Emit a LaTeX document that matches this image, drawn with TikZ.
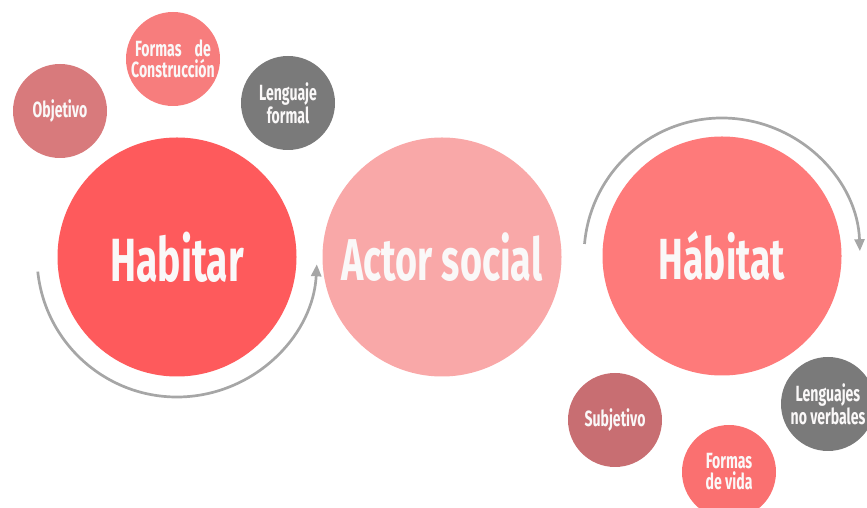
\documentclass[tikz,border=0pt]{standalone}
\usepackage{fontspec}
\newfontfamily\agency[FakeStretch=0.64]{Fira Sans}
\usetikzlibrary{arrows.meta}
\definecolor{cHabitar}{RGB}{254,90,92}
\definecolor{cActor}{RGB}{249,168,168}
\definecolor{cHabitat}{RGB}{254,122,122}
\definecolor{cObjetivo}{RGB}{216,122,124}
\definecolor{cFormasC}{RGB}{247,125,125}
\definecolor{cGris}{RGB}{122,122,122}
\definecolor{cSubjetivo}{RGB}{200,110,114}
\definecolor{cFormasV}{RGB}{250,112,112}
\definecolor{cArc}{RGB}{166,166,166}
\definecolor{cText}{RGB}{250,248,248}
\tikzset{
  bigcircle/.style={circle, inner sep=0pt, minimum size=239pt, text=cText,
    font=\agency\bfseries\fontsize{61}{61}\selectfont},
  smallcircle/.style={circle, inner sep=0pt, minimum size=94pt, text=cText, align=center,
    font=\agency\bfseries\fontsize{22}{21}\selectfont},
  cycle arrow/.style={draw=cArc, line width=2.7pt, -{Triangle[length=12pt,width=10pt]}}
}
\begin{document}
\begin{tikzpicture}[x=1pt,y=1pt]
\useasboundingbox (0,0) rectangle (867,508);
% main circles
\node[bigcircle, fill=cHabitar] (habitar) at (177,251) {Habitar};
\node[bigcircle, fill=cActor, font=\agency\bfseries\fontsize{59}{59}\selectfont] (actor) at (442,251) {Actor social};
\node[bigcircle, fill=cHabitat, font=\agency\bfseries\fontsize{58}{58}\selectfont] (habitat) at (722,252) {Hábitat};
% small circles
\node[smallcircle, fill=cObjetivo] (objetivo) at (60,397) {Objetivo};
\node[smallcircle, fill=cFormasC] (formasc) at (173,449) {Formas\hspace{0.6em}de\\Construcción};
\node[smallcircle, fill=cGris] (lenguaje) at (288,405) {Lenguaje\\formal};
\node[smallcircle, fill=cSubjetivo] (subjetivo) at (615,88) {Subjetivo};
\node[smallcircle, fill=cFormasV] (formasv) at (729,36) {Formas\\de vida};
\node[smallcircle, fill=cGris] (lenguajes) at (828,104) {Lenguajes\\no verbales};
% cycle arrows
\draw[cycle arrow] ([shift={(186:140pt)}]habitar.center) arc[start angle=186, end angle=357, radius=140pt];
\draw[cycle arrow] ([shift={(175:138pt)}]habitat.center) arc[start angle=175, end angle=2, radius=138pt];
\end{tikzpicture}
\end{document}
